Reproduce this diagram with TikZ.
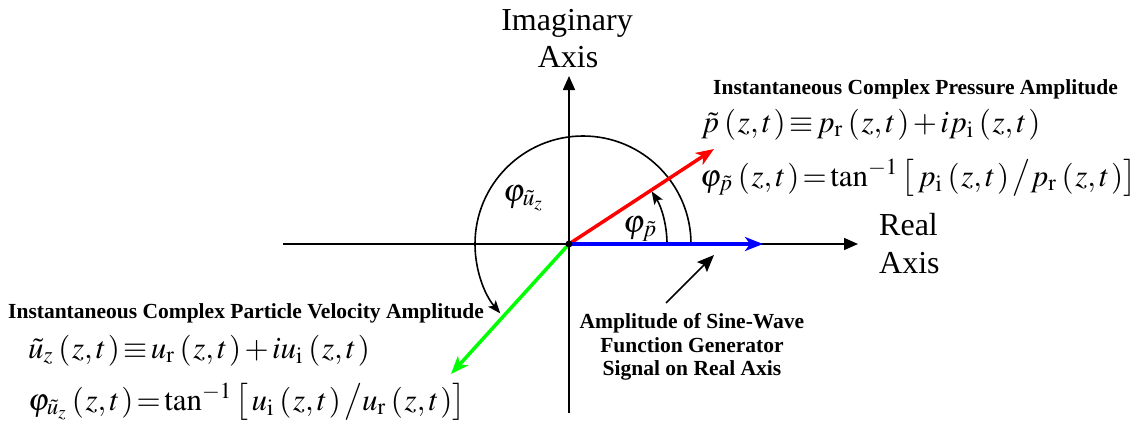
\documentclass[tikz,border=0pt]{standalone}
\usepackage{mathptmx}
\usepackage[no-math]{fontspec}
\setmainfont{Liberation Serif}
\usetikzlibrary{arrows.meta}
\newcommand{\zt}{\mkern1mu\left(\mkern1mu z,t\mkern1mu\right)}
\newcommand{\tightmath}{\thickmuskip=2mu\relax\medmuskip=2mu\relax}
\begin{document}
\begin{tikzpicture}[x=1pt,y=1pt,
  axis/.style={line width=1.6pt,-{Triangle[length=14pt,width=12pt]}},
  vec/.style={line width=3.5pt,-{Stealth[length=18pt,width=14pt,inset=5pt]}},
  arcarrow/.style={line width=1.6pt,-{Stealth[length=13pt,width=10pt,inset=3pt]}},
  pointer/.style={line width=1.6pt,-{Stealth[length=17pt,width=14pt,inset=3pt]}},
  lbl/.style={inner sep=0pt,anchor=base,font=\fontsize{32}{37}\selectfont},
  lblw/.style={inner sep=0pt,anchor=base west,font=\fontsize{32}{37}\selectfont},
  boldw/.style={inner sep=0pt,anchor=base west,font=\fontsize{21.5}{24}\selectfont\bfseries},
  boldc/.style={inner sep=0pt,anchor=base,font=\fontsize{21.5}{24}\selectfont\bfseries},
  eq/.style={inner sep=0pt,anchor=base west,font=\fontsize{31}{36}\selectfont,execute at begin node=\tightmath},
  angl/.style={inner sep=0pt,anchor=base west,font=\fontsize{32}{37}\selectfont}]
\useasboundingbox (0,0) rectangle (1136,-429);
% axes
\coordinate (O) at (569,-244);
\coordinate (xl) at (283,-244);
\coordinate (xr) at (858,-244);
\coordinate (yb) at (569,-413);
\coordinate (yt) at (569,-76);
\draw[axis] (xl) -- (xr);
\draw[axis] (yb) -- (yt);
% arcs
\coordinate (C1) at (583,-244);
\draw[arcarrow] ([shift={(0:108)}]C1) arc[start angle=0,end angle=220,radius=108];
\draw[arcarrow] ([shift={(0:98)}]O) arc[start angle=0,end angle=32.5,radius=98];
% vectors
\coordinate (P) at (714,-149);
\coordinate (U) at (451,-374);
\coordinate (B) at (763,-244);
\draw[vec,red] (O) -- (P);
\draw[vec,blue] (O) -- (B);
\draw[vec,green] (O) -- (U);
\fill (O) circle (3.5);
% pointer
\coordinate (A1) at (666,-303);
\coordinate (A2) at (714,-255);
\draw[pointer] (A1) -- (A2);
% axis labels
\node[lbl] (imag1) at (567,-30) {Imaginary};
\node[lbl] (imag2) at (568,-67) {Axis};
\node[lblw] (real1) at (879,-235) {Real};
\node[lblw] (real2) at (879,-273) {Axis};
% angle labels
\node[angl] (phiu) at (503,-201) {$\varphi_{\tilde{u}_z}$};
\node[angl] (phip) at (623,-232) {$\varphi_{\tilde{p}}$};
% pressure
\node[boldw] (ptitle) at (713,-94) {Instantaneous Complex Pressure Amplitude};
\node[eq] (peq1) at (701,-132) {$\tilde{p}\zt \equiv p_{\mathrm{r}}\zt + ip_{\mathrm{i}}\zt$};
\node[eq] (peq2) at (700,-186) {$\varphi_{\tilde{p}}\zt = \tan^{-1}\left[\,p_{\mathrm{i}}\zt\big/p_{\mathrm{r}}\zt\right]$};
% velocity
\node[boldw] (utitle) at (8,-318) {Instantaneous Complex Particle Velocity Amplitude};
\node[eq] (ueq1) at (28,-358) {$\tilde{u}_z\zt \equiv u_{\mathrm{r}}\zt + iu_{\mathrm{i}}\zt$};
\node[eq] (ueq2) at (28,-410) {$\varphi_{\tilde{u}_z}\zt = \tan^{-1}\left[\,u_{\mathrm{i}}\zt\big/u_{\mathrm{r}}\zt\right]$};
% amplitude note
\node[boldc] (am1) at (692,-328) {Amplitude of Sine-Wave};
\node[boldc] (am2) at (692,-352) {Function Generator};
\node[boldc] (am3) at (692,-375) {Signal on Real Axis};
\end{tikzpicture}
\end{document}
